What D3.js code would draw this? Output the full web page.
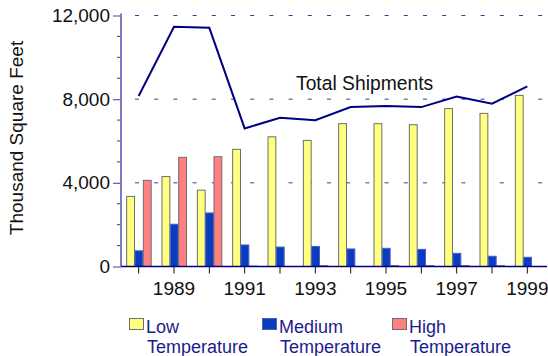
<!DOCTYPE html>
<html>
<head>
<meta charset="utf-8">
<script src="https://cdn.jsdelivr.net/npm/d3@7"></script>
<style>
  html, body { margin: 0; padding: 0; background: #fff; }
  svg { display: block; font-family: "Liberation Sans", Arial, sans-serif; }
</style>
</head>
<body>
<svg id="chart" width="548" height="356"></svg>
<script>
// Refrigerated warehouse shipments, thousand square feet
const years = [1988, 1989, 1990, 1991, 1992, 1993, 1994, 1995, 1996, 1997, 1998, 1999];
const lowTemp = [3350, 4300, 3650, 5600, 6200, 6030, 6830, 6830, 6780, 7550, 7320, 8180];
const mediumTemp = [750, 2020, 2560, 1030, 930, 960, 840, 870, 820, 630, 490, 440];
const highTemp = [4120, 5220, 5250, 20, 0, 40, 0, 40, 40, 40, 40, 0];
const totalShipments = [8150, 11460, 11410, 6600, 7110, 6990, 7620, 7670, 7620, 8130, 7780, 8610];
const yTicks = [0, 4000, 8000, 12000];
const xLabelYears = [1989, 1991, 1993, 1995, 1997, 1999];

const seriesNames = ["Low", "Medium", "High"];
const seriesColors = ["#ffff80", "#0a3cc0", "#ff8080"];
const seriesStrokes = ["#6e6e6e", "#4a5fc8", "#6e6e6e"];

const svg = d3.select("#chart");
const plotLeft = 121, plotRight = 545, plotTop = 15.5, plotBottom = 266.5;

const x = d3.scaleBand().domain(years).range([plotLeft, plotRight]).padding(0);
const y = d3.scaleLinear().domain([0, 12000]).range([plotBottom, plotTop]);
const sub = d3.scaleBand().domain(seriesNames).range([0, 25]).padding(0);
const groupOffset = (x.bandwidth() - 25) / 2;

// dashed gridlines
svg.append("g").selectAll("line").data(yTicks.filter(d => d > 0)).join("line")
  .attr("x1", plotLeft).attr("x2", 548)
  .attr("y1", d => y(d)).attr("y2", d => y(d))
  .attr("stroke", "#3a3aa8").attr("stroke-width", 1)
  .attr("stroke-dasharray", "4,15.2").attr("stroke-dashoffset", 5.2);

// bars
const rows = years.map((yr, i) => ({ year: yr, values: [lowTemp[i], mediumTemp[i], highTemp[i]] }));
const groups = svg.append("g").selectAll("g").data(rows).join("g")
  .attr("transform", d => `translate(${x(d.year) + groupOffset},0)`);
groups.selectAll("rect").data(d => d.values.map((v, k) => ({ v, k })).filter(e => e.v > 0)).join("rect")
  .attr("x", e => sub(seriesNames[e.k]) + 0.5)
  .attr("width", sub.bandwidth() - 0.5)
  .attr("y", e => y(e.v))
  .attr("height", e => plotBottom - y(e.v))
  .attr("fill", e => seriesColors[e.k])
  .attr("stroke", e => seriesStrokes[e.k])
  .attr("stroke-width", 1);

// total shipments line
const line = d3.line()
  .x((d, i) => x(years[i]) + x.bandwidth() / 2)
  .y(d => y(d));
svg.append("path").datum(totalShipments)
  .attr("d", line).attr("fill", "none")
  .attr("stroke", "#000080").attr("stroke-width", 2).attr("stroke-linejoin", "miter");

svg.append("text").attr("x", 296).attr("y", 90)
  .attr("font-size", 19.3).attr("fill", "#111").text("Total Shipments");

// y axis
const yAxis = d3.axisLeft(y).tickValues(yTicks).tickSize(8).tickFormat(d3.format(","));
const yg = svg.append("g").attr("transform", `translate(${plotLeft},0)`).call(yAxis);
yg.select(".domain").remove();
yg.selectAll(".tick line").attr("stroke", "#6a6ab8").attr("stroke-width", 1.3);
yg.selectAll(".tick text").attr("font-size", 19).attr("fill", "#111").attr("x", -11)
  .attr("font-family", "Liberation Sans, Arial, sans-serif");
const minor = d3.range(1000, 12000, 1000).filter(v => v % 4000 !== 0);
yg.selectAll(".minor").data(minor).join("line").attr("class", "minor")
  .attr("x1", -4).attr("x2", 0).attr("y1", d => y(d)).attr("y2", d => y(d))
  .attr("stroke", "#444").attr("stroke-width", 1);
svg.append("line").attr("x1", plotLeft).attr("x2", plotLeft).attr("y1", plotTop - 2).attr("y2", plotBottom)
  .attr("stroke", "#7c7cc4").attr("stroke-width", 2);

// x axis
const xAxis = d3.axisBottom(x).tickSize(7)
  .tickFormat(d => xLabelYears.includes(d) ? d : "");
const xg = svg.append("g").attr("transform", `translate(0,${plotBottom})`).call(xAxis);
xg.select(".domain").remove();
xg.selectAll(".tick line").attr("stroke", "#111");
xg.selectAll(".tick text").attr("font-size", 19).attr("fill", "#111").attr("dy", "0.97em")
  .attr("font-family", "Liberation Sans, Arial, sans-serif");
svg.append("line").attr("x1", plotLeft).attr("x2", 547).attr("y1", plotBottom).attr("y2", plotBottom)
  .attr("stroke", "#000080").attr("stroke-width", 1.5);

// y axis title
svg.append("text")
  .attr("transform", "translate(23,138) rotate(-90)")
  .attr("text-anchor", "middle").attr("font-size", 19).attr("fill", "#111")
  .text("Thousand Square Feet");

// legend
const legendX = [129, 262, 392];
const leg = svg.append("g").selectAll("g").data(seriesNames).join("g")
  .attr("transform", (d, i) => `translate(${legendX[i]},0)`);
leg.append("rect").attr("x", 0.5).attr("y", 318.5).attr("width", 14).attr("height", 11)
  .attr("fill", (d, i) => seriesColors[i]).attr("stroke", (d, i) => seriesStrokes[i]);
leg.append("text").attr("x", 17).attr("y", 333).attr("font-size", 18).attr("fill", "#1c1c8c")
  .text(d => d);
leg.append("text").attr("x", 18).attr("y", 353).attr("font-size", 18).attr("fill", "#1c1c8c")
  .text("Temperature");
</script>
</body>
</html>
